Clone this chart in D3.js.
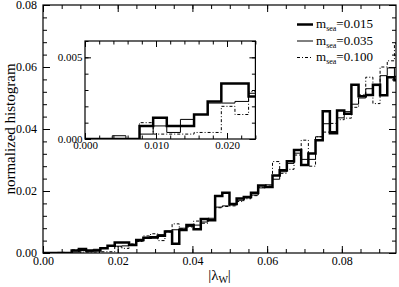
<!DOCTYPE html>
<html>
<head>
<meta charset="utf-8">
<script src="https://cdn.jsdelivr.net/npm/d3@7"></script>
<style>
body { margin: 0; background: #fff; }
svg { display: block; font-family: "Liberation Serif", "Times New Roman", serif; }
</style>
</head>
<body>
<svg width="399" height="287"></svg>
<script>
// histogram bin width in |lambda_W|
var binWidth = 0.00192;

// normalized histogram, one value per bin
var m015 = [0, 0, 0, 0, 0.0008, 0.0013, 0.0008, 0.0008, 0.0015, 0.0023,
    0.0034, 0.0034, 0.0026, 0.0042, 0.0049, 0.0051, 0.0056, 0.0069, 0.0030, 0.0074,
    0.0090, 0.0077, 0.0110, 0.0106, 0.0184, 0.0194, 0.0158, 0.0176, 0.0181, 0.0194,
    0.0218, 0.0213, 0.0250, 0.0267, 0.0296, 0.0332, 0.0284, 0.0321, 0.0364, 0.0457,
    0.0386, 0.0460, 0.0449, 0.0543, 0.0506, 0.0510, 0.0543, 0.0509, 0.0567, 0.0557];
var m035 = [0, 0, 0.0002, 0, 0.0003, 0.0008, 0.0004, 0.0012, 0.0015, 0.0022,
    0.0022, 0.0023, 0.0028, 0.0038, 0.0050, 0.0048, 0.0059, 0.0071, 0.0075, 0.0080,
    0.0086, 0.0090, 0.0100, 0.0112, 0.0148, 0.0152, 0.0155, 0.0170, 0.0178, 0.0187,
    0.0210, 0.0220, 0.0238, 0.0262, 0.0289, 0.0322, 0.0302, 0.0302, 0.0375, 0.0417,
    0.0392, 0.0436, 0.0456, 0.0480, 0.0500, 0.0530, 0.0540, 0.0572, 0.0597, 0.0570];
var m100 = [0, 0, 0, 0, 0.0010, 0.0003, 0.0003, 0.0003, 0.0004, 0.0004,
    0.0020, 0.0015, 0.0029, 0.0037, 0.0055, 0.0062, 0.0040, 0.0068, 0.0094, 0.0078,
    0.0084, 0.0103, 0.0096, 0.0108, 0.0146, 0.0150, 0.0152, 0.0166, 0.0175, 0.0185,
    0.0212, 0.0216, 0.0295, 0.0257, 0.0270, 0.0316, 0.0364, 0.0280, 0.0375, 0.0390,
    0.0418, 0.0430, 0.0435, 0.0470, 0.0510, 0.0567, 0.0482, 0.0600, 0.0620, 0.0675];

var seriesNames = ["0.015", "0.035", "0.100"];

var xTicks = [0, 0.02, 0.04, 0.06, 0.08];
var yTicks = [0, 0.02, 0.04, 0.06, 0.08];
var insetXTicks = [0, 0.010, 0.020];
var insetYTicks = [0, 0.005];

var styles = [
    {width: 2.5, dash: null},
    {width: 1, dash: null},
    {width: 1, dash: "3,2,1,2"}
];
var allSeries = [m015, m035, m100];

var svg = d3.select("svg");

var x = d3.scaleLinear().domain([0, 0.0945]).range([43, 396]);
var y = d3.scaleLinear().domain([0, 0.08]).range([253, 5]);

var ix = d3.scaleLinear().domain([0, 0.024]).range([85, 255.4]);
var iy = d3.scaleLinear().domain([0, 0.006]).range([139, 41]);

// points for a step line
function stepPoints(vals) {
    var pts = vals.map(function(v, i) { return [i * binWidth, v]; });
    pts.push([vals.length * binWidth, vals[vals.length - 1]]);
    return pts;
}

function drawAxes(g, xs, ys, xt, yt, xMinor, yMinor, major, minor, fmtX, fmtY, padX, padY, fs) {
    var x0 = xs.range()[0], x1 = xs.range()[1];
    var y0 = ys.range()[0], y1 = ys.range()[1];

    g.append("g").attr("transform", "translate(0," + y0 + ")")
        .call(d3.axisBottom(xs).tickValues(xMinor).tickSize(-minor).tickFormat(""));
    g.append("g").attr("transform", "translate(0," + y1 + ")")
        .call(d3.axisTop(xs).tickValues(xMinor).tickSize(-minor).tickFormat(""));
    g.append("g").attr("transform", "translate(" + x0 + ",0)")
        .call(d3.axisLeft(ys).tickValues(yMinor).tickSize(-minor).tickFormat(""));
    g.append("g").attr("transform", "translate(" + x1 + ",0)")
        .call(d3.axisRight(ys).tickValues(yMinor).tickSize(-minor).tickFormat(""));

    g.append("g").attr("transform", "translate(0," + y0 + ")")
        .call(d3.axisBottom(xs).tickValues(xt).tickSize(-major).tickPadding(padX).tickFormat(fmtX));
    g.append("g").attr("transform", "translate(0," + y1 + ")")
        .call(d3.axisTop(xs).tickValues(xt).tickSize(-major).tickFormat(""));
    g.append("g").attr("transform", "translate(" + x0 + ",0)")
        .call(d3.axisLeft(ys).tickValues(yt).tickSize(-major).tickPadding(padY).tickFormat(fmtY));
    g.append("g").attr("transform", "translate(" + x1 + ",0)")
        .call(d3.axisRight(ys).tickValues(yt).tickSize(-major).tickFormat(""));

    g.selectAll(".domain").remove();
    g.selectAll(".tick line").attr("stroke", "#000").attr("stroke-width", 1);
    g.selectAll(".tick text")
        .attr("fill", "#000")
        .style("font-family", "'Liberation Serif', 'Times New Roman', serif")
        .style("font-size", fs + "px");
}

function minorValues(lo, hi, step) {
    return d3.range(Math.round(lo / step), Math.floor(hi / step + 1e-9) + 1)
        .map(function(i) { return i * step; });
}

// ---- main plot
svg.append("clipPath").attr("id", "clipMain").append("rect")
    .attr("x", 43).attr("y", 5).attr("width", 353).attr("height", 248);

var main = svg.append("g");
drawAxes(main, x, y, xTicks, yTicks,
    minorValues(0, 0.0945, 0.005), minorValues(0, 0.08, 0.004),
    7, 4, d3.format(".2f"), d3.format(".2f"), 3, 6, 12);

var lineMain = d3.line()
    .x(function(d) { return x(d[0]); })
    .y(function(d) { return y(d[1]); })
    .curve(d3.curveStepAfter);

main.append("g").attr("clip-path", "url(#clipMain)")
    .selectAll("path")
    .data(allSeries)
    .enter()
    .append("path")
    .attr("d", function(d) { return lineMain(stepPoints(d)); })
    .attr("fill", "none")
    .attr("stroke", "#000")
    .attr("stroke-width", function(d, i) { return styles[i].width; })
    .attr("stroke-dasharray", function(d, i) { return styles[i].dash; });

main.append("rect")
    .attr("x", 43).attr("y", 5).attr("width", 353).attr("height", 248)
    .attr("fill", "none").attr("stroke", "#000").attr("stroke-width", 1.2);

// ---- inset
svg.append("clipPath").attr("id", "clipInset").append("rect")
    .attr("x", 85).attr("y", 41).attr("width", 170.4).attr("height", 98);

var inset = svg.append("g");
inset.append("rect")
    .attr("x", 85).attr("y", 41).attr("width", 170.4).attr("height", 98)
    .attr("fill", "#fff");
drawAxes(inset, ix, iy, insetXTicks, insetYTicks,
    minorValues(0, 0.024, 0.002), minorValues(0, 0.006, 0.001),
    6, 3.5, d3.format(".3f"), d3.format(".3f"), 2.5, 2.5, 11);

var lineInset = d3.line()
    .x(function(d) { return ix(d[0]); })
    .y(function(d) { return iy(d[1]); })
    .curve(d3.curveStepAfter);

inset.append("g").attr("clip-path", "url(#clipInset)")
    .selectAll("path")
    .data(allSeries)
    .enter()
    .append("path")
    .attr("d", function(d) { return lineInset(stepPoints(d)); })
    .attr("fill", "none")
    .attr("stroke", "#000")
    .attr("stroke-width", function(d, i) { return styles[i].width; })
    .attr("stroke-dasharray", function(d, i) { return styles[i].dash; });

inset.append("rect")
    .attr("x", 85).attr("y", 41).attr("width", 170.4).attr("height", 98)
    .attr("fill", "none").attr("stroke", "#000").attr("stroke-width", 1.2);

// ---- legend
var legend = svg.append("g");
seriesNames.forEach(function(name, i) {
    var ly = 24.5 + i * 16.5;
    legend.append("line")
        .attr("x1", 297).attr("x2", 313).attr("y1", ly).attr("y2", ly)
        .attr("stroke", "#000")
        .attr("stroke-width", styles[i].width)
        .attr("stroke-dasharray", styles[i].dash);
    var t = legend.append("text")
        .attr("x", 316).attr("y", ly + 3.5)
        .style("font-size", "13px");
    t.append("tspan").text("m");
    t.append("tspan").attr("dy", 3).style("font-size", "8px").text("sea");
    t.append("tspan").attr("dy", -3).text("=" + name);
});

// ---- axis titles
svg.append("text")
    .attr("transform", "translate(15,129) rotate(-90)")
    .attr("text-anchor", "middle")
    .style("font-size", "15px")
    .text("normalized histogram");

var xt = svg.append("text")
    .attr("x", 219.5).attr("y", 280)
    .attr("text-anchor", "middle")
    .style("font-size", "15px");
xt.append("tspan").text("|λ");
xt.append("tspan").attr("dy", 3).style("font-size", "10px").text("W");
xt.append("tspan").attr("dy", -3).text("|");
</script>
</body>
</html>
